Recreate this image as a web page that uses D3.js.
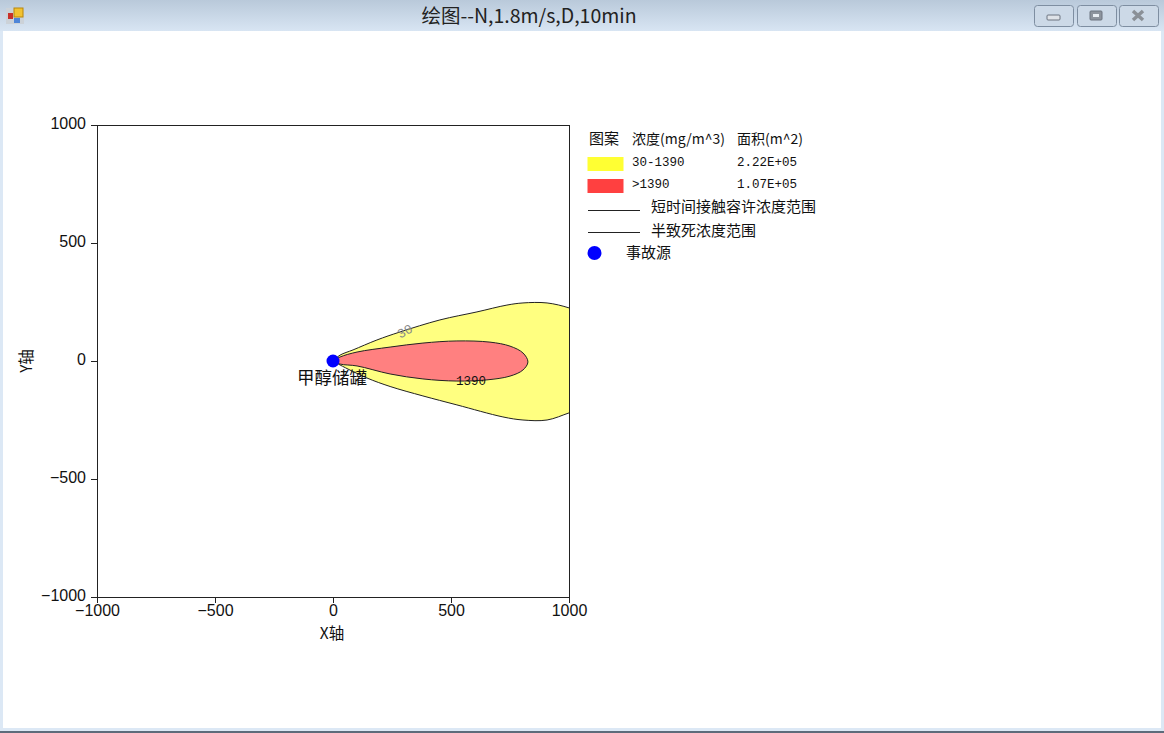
<!DOCTYPE html>
<html>
<head>
<meta charset="utf-8">
<script src="https://cdn.jsdelivr.net/npm/d3@7"></script>
<style>
html, body { margin: 0; padding: 0; background: #fff; overflow: hidden; }
svg { display: block; }
.axis text { font: 16px "Liberation Sans", sans-serif; fill: #111; }
.axis line { stroke: #222; shape-rendering: crispEdges; }
.axis path { display: none; }
.cjk { font-family: "Noto Sans CJK SC", sans-serif; }
.mono { font-family: "Liberation Mono", monospace; }
</style>
</head>
<body>
<script>
const tickValues = [-1000, -500, 0, 500, 1000];
const windowTitle = "绘图--N,1.8m/s,D,10min";

// contour 30 mg/m^3
const yellowX = [0, 30, 85, 186, 284, 453, 610, 737, 805, 907, 1000, 1060, 1060, 1000, 907, 805, 720, 525, 381, 242, 144, 30, 0];
const yellowY = [0, 25, 47, 89, 123, 174, 208, 237, 246, 246, 225, 200, -200, -220, -250, -250, -237, -186, -148, -108, -72, -17, 0];
// contour 1390 mg/m^3
const redX = [0, 30, 102, 242, 381, 525, 665, 750, 805, 826, 805, 750, 652, 525, 381, 242, 102, 30, 0];
const redY = [0, 17, 38, 59, 76, 85, 80, 63, 34, -4, -38, -64, -80, -85, -76, -55, -21, -13, 0];

const legendHeader = ["图案", "浓度(mg/m^3)", "面积(m^2)"];
const legendRanges = ["30-1390", ">1390"];
const legendAreas = ["2.22E+05", "1.07E+05"];
const legendLines = ["短时间接触容许浓度范围", "半致死浓度范围"];
const legendSource = "事故源";

const width = 1164, height = 733;
const svg = d3.select("body").append("svg").attr("width", width).attr("height", height);

// window frame
const defs = svg.append("defs");
const grad = defs.append("linearGradient").attr("id", "bar")
  .attr("x1", 0).attr("y1", 0).attr("x2", 0).attr("y2", 1);
grad.append("stop").attr("offset", 0).attr("stop-color", "#b9c9da");
grad.append("stop").attr("offset", 1).attr("stop-color", "#d8e5f3");
svg.append("rect").attr("width", width).attr("height", height).attr("fill", "#dce8f5");
svg.append("rect").attr("width", width).attr("height", 31).attr("fill", "url(#bar)");
svg.append("rect").attr("x", 3).attr("y", 31).attr("width", width - 6).attr("height", 697).attr("fill", "#fff");
svg.append("rect").attr("y", 731).attr("width", width).attr("height", 2).attr("fill", "#5d6b7a");

// app icon
const icon = svg.append("g");
icon.append("rect").attr("x", 6).attr("y", 8).attr("width", 18).attr("height", 16).attr("fill", "#ccd2d8");
icon.append("rect").attr("x", 14).attr("y", 8).attr("width", 9).attr("height", 9).attr("fill", "#f2c230").attr("stroke", "#b8860b");
icon.append("rect").attr("x", 8).attr("y", 13).attr("width", 5).attr("height", 6).attr("fill", "#c8302a");
icon.append("rect").attr("x", 14).attr("y", 18).attr("width", 6).attr("height", 5).attr("fill", "#4f86d8");

svg.append("text").attr("class", "cjk").attr("x", 529).attr("y", 23)
  .attr("text-anchor", "middle").attr("font-size", 19.5).attr("fill", "#222").text(windowTitle);

// caption buttons
[1034, 1077, 1119].forEach(x => {
  svg.append("rect").attr("x", x + .5).attr("y", 5.5).attr("width", 39).attr("height", 21).attr("rx", 3)
    .attr("fill", "#ccd9e7").attr("stroke", "#7e8ea1");
});
svg.append("rect").attr("x", 1047).attr("y", 15).attr("width", 13).attr("height", 5).attr("rx", 1).attr("fill", "#dfe3e8").attr("stroke", "#6c7480");
svg.append("rect").attr("x", 1090).attr("y", 11).attr("width", 12).attr("height", 9).attr("rx", 1).attr("fill", "#8d949d").attr("stroke", "#6c7480");
svg.append("rect").attr("x", 1093).attr("y", 14).attr("width", 6).attr("height", 3).attr("fill", "#e8edf2");
svg.append("path").attr("d", "M1133 11L1143 20M1143 11L1133 20").attr("stroke", "#8a9097").attr("stroke-width", 3.5).attr("fill", "none");

// plot
const x = d3.scaleLinear().domain([-1000, 1000]).range([97, 569]);
const y = d3.scaleLinear().domain([-1000, 1000]).range([597, 125]);

defs.append("clipPath").attr("id", "plotClip").append("rect")
  .attr("x", x(-1000)).attr("y", y(1000))
  .attr("width", x(1000) - x(-1000)).attr("height", y(-1000) - y(1000));

const contour = d3.line().x(d => x(d[0])).y(d => y(d[1])).curve(d3.curveCatmullRom.alpha(0.5));
const yellowPts = d3.zip(yellowX, yellowY);
const redPts = d3.zip(redX, redY);

const plot = svg.append("g").attr("clip-path", "url(#plotClip)");
const addContour = (pts, fill) => plot.append("path").attr("d", contour(pts))
  .attr("fill", fill).attr("stroke", "#222").attr("stroke-width", 1);
addContour(yellowPts, "#ffff80");
addContour(redPts, "#ff8080");

svg.append("rect").attr("x", x(-1000) + .5).attr("y", y(1000) + .5)
  .attr("width", x(1000) - x(-1000)).attr("height", y(-1000) - y(1000))
  .attr("fill", "none").attr("stroke", "#222").attr("shape-rendering", "crispEdges");

const fmt = d => d < 0 ? "\u2212" + Math.abs(d) : String(d);
svg.append("g").attr("class", "axis").attr("transform", `translate(0,${y(-1000)})`)
  .call(d3.axisBottom(x).tickValues(tickValues).tickFormat(fmt).tickSize(6).tickSizeOuter(0).tickPadding(2));
const yAxis = svg.append("g").attr("class", "axis").attr("transform", `translate(${x(-1000)},0)`)
  .call(d3.axisLeft(y).tickValues(tickValues).tickFormat(fmt).tickSize(6).tickSizeOuter(0).tickPadding(5));
yAxis.selectAll("text").attr("dy", "0.22em");

svg.append("text").attr("class", "cjk").attr("x", 332).attr("y", 639).attr("text-anchor", "middle")
  .attr("font-size", 15.5).attr("fill", "#111").text("X轴");
svg.append("text").attr("class", "cjk").attr("transform", "translate(32,361) rotate(-90)")
  .attr("text-anchor", "middle").attr("font-size", 15.5).attr("fill", "#111").text("Y轴");

// contour labels
svg.append("text").attr("class", "mono").attr("transform", `translate(${x(305)},${y(125)}) rotate(-28)`)
  .attr("text-anchor", "middle").attr("dy", 4).attr("font-size", 13).attr("fill", "#888").text("30");
svg.append("text").attr("class", "mono").attr("x", x(585)).attr("y", y(-85)).attr("dy", 4)
  .attr("text-anchor", "middle").attr("font-size", 12.5).attr("fill", "#111").text("1390");

// source
svg.append("circle").attr("cx", x(0)).attr("cy", y(0)).attr("r", 6.5).attr("fill", "#0000ff");
svg.append("text").attr("class", "cjk").attr("x", x(0) - 1).attr("y", y(-98)).attr("text-anchor", "middle")
  .attr("font-size", 17.5).attr("fill", "#111").text("甲醇储罐");

// legend
const lg = svg.append("g").attr("fill", "#111");
const col = [589, 632, 737];
lg.append("text").attr("class", "cjk").attr("x", col[0]).attr("y", 144).attr("font-size", 15).text(legendHeader[0]);
lg.append("text").attr("class", "cjk").attr("x", col[1]).attr("y", 144).attr("font-size", 14).text(legendHeader[1]);
lg.append("text").attr("class", "cjk").attr("x", col[2]).attr("y", 144).attr("font-size", 14).text(legendHeader[2]);

const swatch = ["#ffff33", "#ff4040"];
legendRanges.forEach((r, i) => {
  const top = 157 + i * 22;
  lg.append("rect").attr("x", 587.5).attr("y", top).attr("width", 36).attr("height", 14).attr("fill", swatch[i]);
  lg.append("text").attr("class", "mono").attr("x", col[1]).attr("y", top + 9).attr("font-size", 12.5).text(r);
  lg.append("text").attr("class", "mono").attr("x", col[2]).attr("y", top + 9).attr("font-size", 12.5).text(legendAreas[i]);
});
legendLines.forEach((t, i) => {
  const ly = 210 + i * 22;
  lg.append("line").attr("x1", 588).attr("x2", 640).attr("y1", ly + .5).attr("y2", ly + .5).attr("stroke", "#222");
  lg.append("text").attr("class", "cjk").attr("x", 651).attr("y", 212 + i * 24).attr("font-size", 15).text(t);
});
lg.append("circle").attr("cx", 594.5).attr("cy", 253).attr("r", 7).attr("fill", "#0000ff");
lg.append("text").attr("class", "cjk").attr("x", 626).attr("y", 258).attr("font-size", 15).text(legendSource);
</script>
</body>
</html>
